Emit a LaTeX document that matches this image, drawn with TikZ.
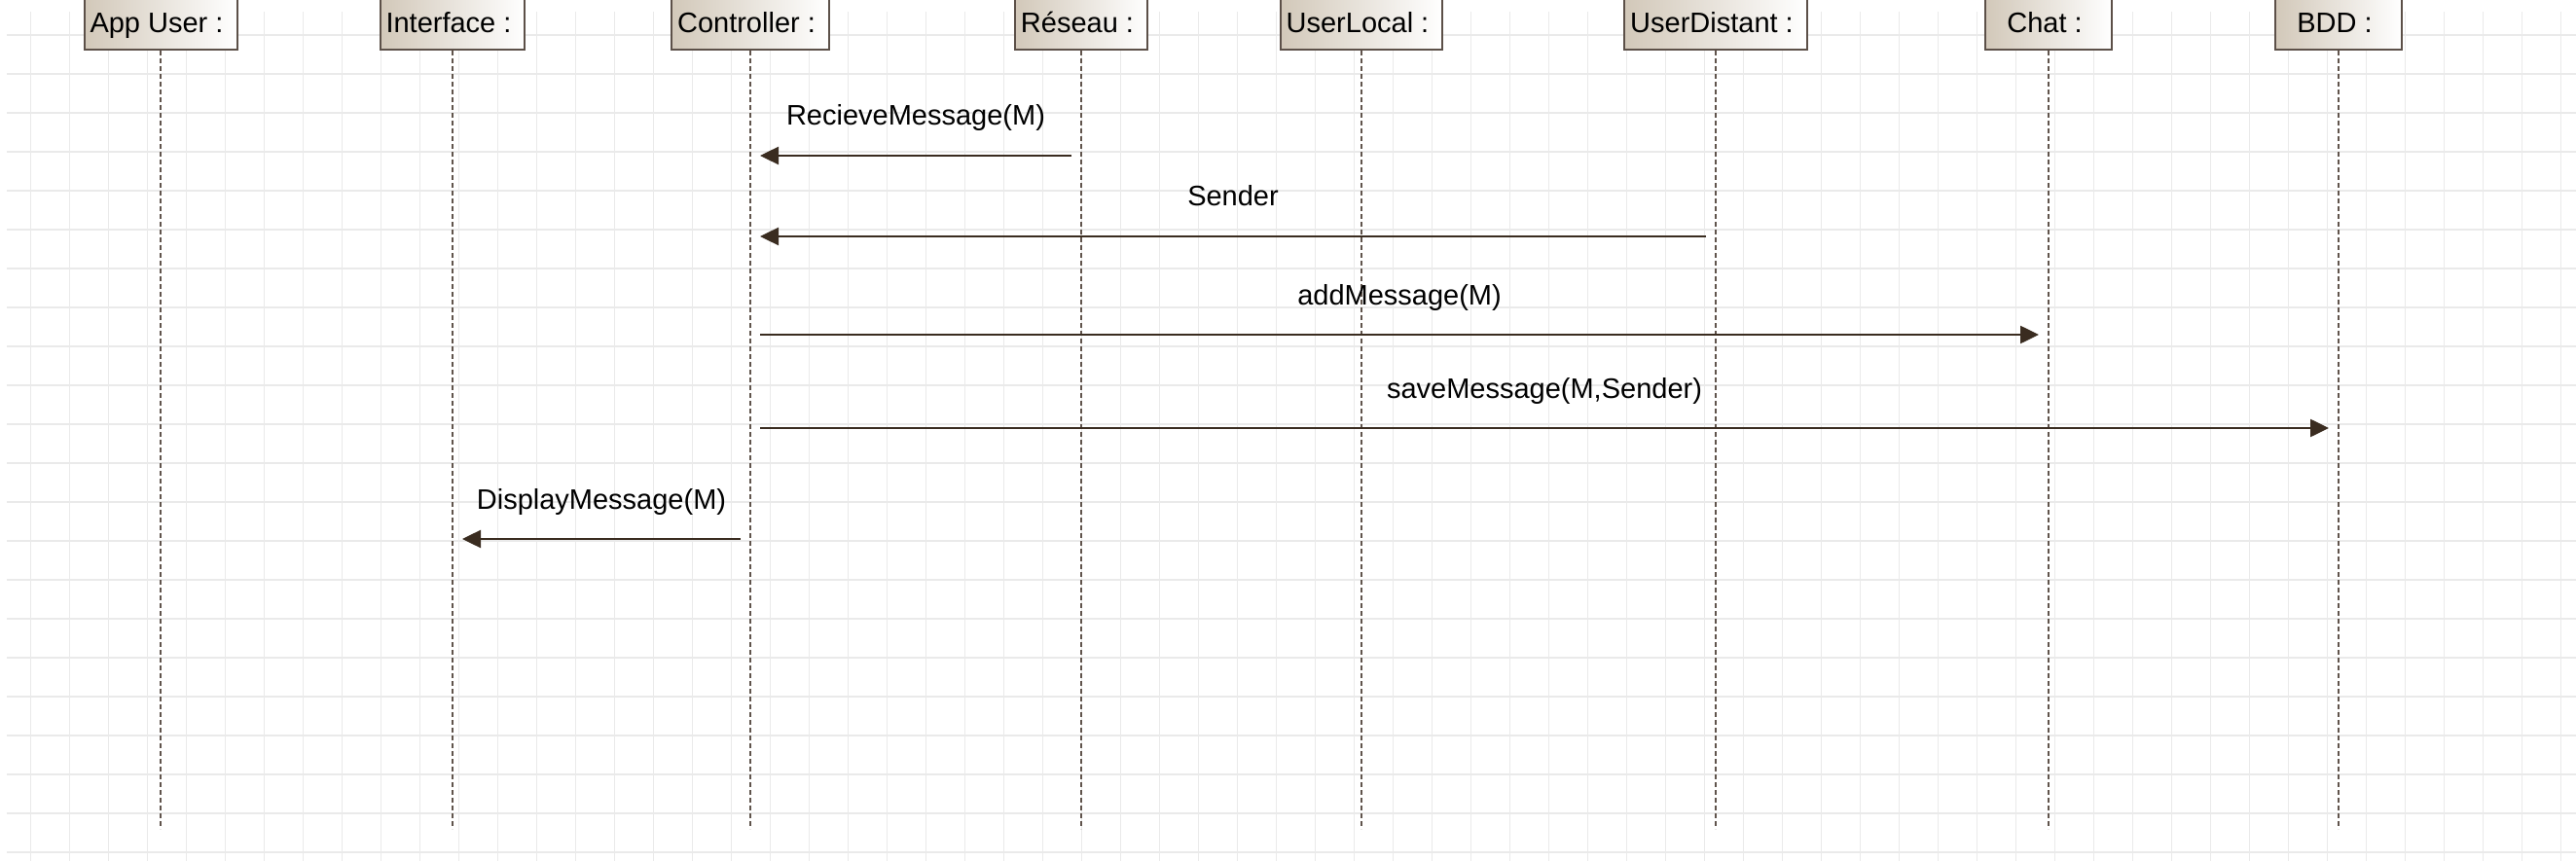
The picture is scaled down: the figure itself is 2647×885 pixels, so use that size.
\documentclass[tikz,border=0pt]{standalone}
\usepackage{fontspec}
\setmainfont{Liberation Sans}
\usetikzlibrary{arrows.meta}
\definecolor{boxborder}{RGB}{92,80,72}
\definecolor{boxleft}{RGB}{210,200,185}
\definecolor{msgcol}{RGB}{58,44,32}
\definecolor{lifecol}{RGB}{96,84,76}
\definecolor{gridcol}{RGB}{234,234,234}
\tikzset{
  actor/.style={draw=boxborder, line width=2pt, left color=boxleft, right color=white,
    minimum width=130pt, minimum height=64pt, inner xsep=6pt,
    text height=32pt, text depth=2pt, anchor=south},
  lifeline/.style={draw=lifecol, line width=2pt, dash pattern=on 5pt off 3pt},
  msg/.style={draw=msgcol, line width=2.5pt, -{Triangle[length=19pt,width=18pt]},
    shorten >=10pt, shorten <=10pt},
  lbl/.style={midway, anchor=base, yshift=31pt, inner sep=0pt, text=black},
  gridline/.style={draw=gridcol, line width=1.2pt}
}
\begin{document}
\begin{tikzpicture}[x=1pt,y=-1pt,font=\fontsize{29}{34}\selectfont]
\useasboundingbox (0,0) rectangle (2647,885);
\clip (0,0) rectangle (2647,885);
\fill[white] (0,0) rectangle (2647,885);
\begin{scope}[shift={(31.7,36)}]
  \draw[gridline, step=40pt] (-24.7,-24) grid (2616,849);
\end{scope}

% actors
\node[actor] (app) at (165,52) {App User :\hspace*{8pt}};
\node[actor] (itf) at (465,52) {Interface :\hspace*{8pt}};
\node[actor] (ctl) at (771,52) {Controller :\hspace*{8pt}};
\node[actor] (res) at (1111,52) {Réseau :\hspace*{8pt}};
\node[actor] (ulo) at (1399,52) {UserLocal :\hspace*{8pt}};
\node[actor] (udi) at (1763,52) {UserDistant :\hspace*{8pt}};
\node[actor] (cht) at (2105,52) {Chat :\hspace*{8pt}};
\node[actor] (bdd) at (2403,52) {BDD :\hspace*{8pt}};

% lifelines
\coordinate (bottom) at (0,852);
\foreach \a in {app,itf,ctl,res,ulo,udi,cht,bdd}{
  \coordinate (\a E) at (\a.south |- bottom);
  \draw[lifeline] (\a.south) -- (\a E);
}

% message rows
\coordinate (m1) at (0,160);
\coordinate (m2) at (0,243);
\coordinate (m3) at (0,344);
\coordinate (m4) at (0,440);
\coordinate (m5) at (0,554);

\draw[msg] (res |- m1) -- node[lbl] (l1) {RecieveMessage(M)} (ctl |- m1);
\draw[msg] (udi |- m2) -- node[lbl] (l2) {Sender} (ctl |- m2);
\draw[msg] (ctl |- m3) -- node[lbl] (l3) {addMessage(M)} (cht |- m3);
\draw[msg] (ctl |- m4) -- node[lbl] (l4) {saveMessage(M,Sender)} (bdd |- m4);
\draw[msg] (ctl |- m5) -- node[lbl] (l5) {DisplayMessage(M)} (itf |- m5);
\end{tikzpicture}
\end{document}
